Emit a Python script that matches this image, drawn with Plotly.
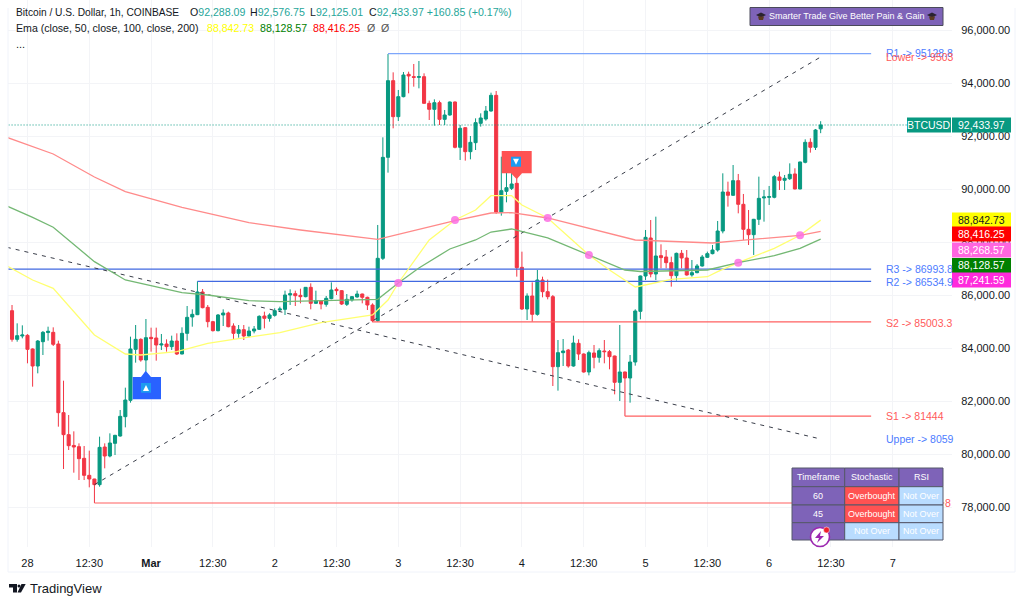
import pandas as pd
import plotly.graph_objects as go

opens = [85426,84344,84470,84495,83980,83338,84256,84600,84608,84168,81577,80747,80340,80294,79853,79212,79073,78860,80280,79941,
80419,80696,81426,82042,83967,84344,83564,84420,84395,84130,84168,84068,84281,83791,84571,85187,85275,86131,85552,85011,
84671,85263,85338,84847,84571,84709,84470,84659,84722,85225,85137,85250,85450,85477,86018,86068,86005,85955,86307,85703,
85792,85665,85880,86231,86181,85665,85830,85943,86055,85930,85640,85049,87402,91213,94107,92748,93503,94346,94258,94232,
94258,93251,93025,93276,92647,92811,93302,91591,92333,91427,91767,92497,92660,92962,93553,89138,89930,90043,90232,87062,
85489,85980,85288,86584,86143,85955,83313,83841,83942,83338,84193,83791,83112,83829,83665,83904,83879,83715,82722,83112,
82885,83489,85401,86735,88169,86810,87503,87452,87238,86748,87590,87415,86773,86861,87113,87440,87578,87716,88433,89905,
89780,90333,89440,88496,88295,88874,89679,89704,89704,90472,90346,90408,90585,90019,91025,91780,91591,92288.09]
highs = [85640,84948,84873,84540,84005,84319,84659,84822,84797,84294,82784,81489,80872,80419,80319,80143,79080,80671,80419,80797,
80740,81677,82520,84445,84885,84382,85112,84785,84785,84546,84344,84483,84571,84797,85602,85477,86535,86244,85640,85040,
85300,85477,85388,84948,84885,84885,84822,84847,85250,85388,85326,85515,85577,86181,86231,86181,86256,86320,86458,86181,
85815,85980,86495,86307,86206,86055,85980,86181,86068,85955,85703,88660,91968,95113,94421,93755,94434,94446,94736,94849,
94383,93352,93402,93352,93000,93320,93320,92433,92345,92018,92685,92874,93151,93654,93717,91238,90672,90987,90421,87653,
86080,86496,86961,86709,86600,86018,84319,84357,83980,84483,84345,83815,83917,84131,84005,84319,83942,83728,84886,83125,
83753,85477,86750,88471,88848,88974,87930,87716,87465,87616,87716,87716,87339,87188,87528,87654,87905,88811,90610,90295,
90924,90585,89830,89226,88890,90484,89981,90132,90547,90673,90547,90987,90799,91050,91893,91931,92283,92576.75]
lows = [84256,84256,84382,83439,82558,83061,83753,84294,84093,81048,79451,80168,79312,79035,79035,78759,78168,78784,79476,79891,
79979,80671,81023,81954,83464,83501,83124,83879,83539,83942,83879,83942,83753,83778,84294,84822,85260,85514,84797,84640,
84646,84847,84797,84319,84407,84319,84420,84571,84697,84759,85011,85200,85388,85263,85641,85602,85703,85930,85477,85690,
85477,85577,85855,86018,85640,85603,85766,85917,85703,85452,84990,85011,87339,90635,92308,92585,93478,93629,93880,93817,
93238,92622,92408,92433,92433,92786,91553,91113,91088,91138,91490,92371,92597,92937,89075,89012,89515,89980,86710,85452,
85074,85011,85238,85930,85854,82583,82407,83338,83275,83313,83565,83087,82986,83250,83464,83439,83213,82269,82017,81444,
81954,83351,85099,86584,86685,86584,87025,87025,86333,86559,87025,86748,86710,86836,87088,87415,87553,87653,88345,89352,
89755,89100,88094,87905,87528,88660,88786,89415,89666,89981,89981,90358,90006,90006,90987,91390,91490,92125.01]
closes = [84344,84483,84508,83967,83338,84281,84608,84650,84156,81577,80747,80331,80280,79841,79212,79073,78860,80268,79941,80432,
80721,81438,82055,83980,84344,83564,84407,84370,84130,84168,84068,84281,83791,84571,85175,85288,86131,85539,85011,84671,
85263,85338,84822,84571,84709,84470,84659,84735,85213,85137,85263,85426,85490,86018,86068,85992,85955,86307,85703,85804,
85678,85892,86206,86181,85678,85854,85955,86055,85930,85640,85049,87402,91213,94107,92748,93503,94321,94283,94232,94258,
93251,93025,93276,92647,92811,93302,91591,92308,91427,91779,92522,92698,92962,93553,89138,89955,90068,90207,87049,85489,
85980,85288,86584,86143,85955,83313,83841,83904,83338,84206,83791,83112,83841,83665,83917,83879,83690,82722,83112,82885,
83489,85414,86735,88194,86810,87490,87427,87238,86748,87590,87415,86773,86861,87113,87452,87578,87716,88433,89905,89780,
90333,89440,88496,88295,88874,89666,89717,89730,90484,90346,90421,90572,90019,91038,91780,91591,92245,92433.97]

ema50_idx = [-1,4,8,16,22,25,32,36,38,43,52,60,70,73,75,81,86,90,93,97,99,104,112,116,121,122,128,135,137,141,148,153,157]
ema50_val = [87112,86584,86271,84508,83791,83753,83878,84104,84195,84346,84595,84972,85263,85829,86471,88094,88848,89226,89765,89765,89414,88924,87527,86961,86320,86357,86610,86708,86897,87237,87780,88271,88842.73]
ema100_idx = [-1,4,8,16,22,33,38,46,52,62,71,75,79,85,90,93,97,104,112,119,122,135,141,148,153,157]
ema100_val = [89377,88950,88573,87275,86584,86105,86018,85803,85765,85803,85855,86471,87037,87754,88094,88395,88509,88169,87527,86961,86905,86961,87237,87501,87780,88128.57]
ema200_idx = [-1,8,16,22,33,38,46,56,71,86,93,97,104,121,128,136,141,153,157]
ema200_val = [91969,91339,90471,89916,89328,89101,88746,88471,88120,88822,89112,89124,88924,88094,88029,87980,88067,88271,88416.25]

cross_idx = [75,86,104,112,141,153]
cross_val = [86471,88848,88924,87527,87237,88271]

level_names = ["R1","R2","R3","S2","S1","S3"]
level_vals = [95128.8,86534.9,86993.8,85003.3,81444,78168]
level_from = [73,36,-1,70,119,16]
level_to = [166.8,166.8,166.8,166.8,166.8,181]
level_cols = ["#7ea6fb","#4169e1","#4169e1","#ff6060","#ff6060","#ff6060"]

trend_idx = [[16,157],[-1,157]]
trend_val = [[78860,95000],[87818,80583]]

price_ticks = [78000,80000,82000,84000,86000,88000,90000,92000,94000,96000]
time_ticks = ["2025-02-28 00:00","2025-02-28 12:00","2025-03-01 00:00","2025-03-01 12:00","2025-03-02 00:00","2025-03-02 12:00",
 "2025-03-03 00:00","2025-03-03 12:00","2025-03-04 00:00","2025-03-04 12:00","2025-03-05 00:00","2025-03-05 12:00",
 "2025-03-06 00:00","2025-03-06 12:00","2025-03-07 00:00"]
time_labels = ["28","12:30","<b>Mar</b>","12:30","2","12:30","3","12:30","4","12:30","5","12:30","6","12:30","7"]

UP, DOWN = "#089981", "#f23645"
PURPLE = "#7e63b8"
FONT = "Liberation Sans"
start = pd.Timestamp("2025-02-27 21:00")
def when(i):
    return start + pd.Timedelta(hours=float(i))
dates = [when(i) for i in range(len(closes))]

FW, FH = 1024, 604
PANE_L, PANE_R, PANE_T, PANE_B = 8, 952, 0, 547
PW, PH = PANE_R-PANE_L, PANE_B-PANE_T
def xp(px): return (px-PANE_L)/PW
def yp(py): return 1-(py-PANE_T)/PH

fig = go.Figure()
for name, val, a, b, col in zip(level_names, level_vals, level_from, level_to, level_cols):
    fig.add_trace(go.Scatter(x=[when(a),when(b)], y=[val,val], mode="lines", name=name, line=dict(color=col,width=1.2), showlegend=False))
for idx, val in zip(trend_idx, trend_val):
    fig.add_trace(go.Scatter(x=[when(i) for i in idx], y=val, mode="lines", line=dict(color="#3a3e4a",width=1,dash="4px 5px"), showlegend=False))
fig.add_trace(go.Scatter(x=[when(i) for i in ema50_idx], y=ema50_val, mode="lines", line=dict(color="#ffff70",width=1.3), showlegend=False))
fig.add_trace(go.Scatter(x=[when(i) for i in ema100_idx], y=ema100_val, mode="lines", line=dict(color="#74b874",width=1.3), showlegend=False))
fig.add_trace(go.Scatter(x=[when(i) for i in ema200_idx], y=ema200_val, mode="lines", line=dict(color="#ff8a8a",width=1.3), showlegend=False))
fig.add_trace(go.Candlestick(x=dates, open=opens, high=highs, low=lows, close=closes, whiskerwidth=0,
    increasing=dict(line=dict(color=UP,width=1), fillcolor=UP),
    decreasing=dict(line=dict(color=DOWN,width=1), fillcolor=DOWN), showlegend=False))
fig.add_trace(go.Scatter(x=[when(i) for i in cross_idx], y=cross_val, mode="markers",
    marker=dict(color="#fb6fe3",size=8,opacity=0.85), showlegend=False))
fig.add_trace(go.Scatter(x=[dates[0]-pd.Timedelta(hours=3), when(174.5)], y=[closes[-1],closes[-1]], mode="lines",
    line=dict(color=UP,width=1,dash="1px 2px"), showlegend=False))

shapes, ann = [], []
def rect(x0,y0,x1,y1,fill,line=None,lw=1):
    shapes.append(dict(type="rect",xref="paper",yref="paper",x0=xp(x0),x1=xp(x1),y0=yp(y0),y1=yp(y1),
        fillcolor=fill,line=dict(color=line or fill,width=lw if line else 0),layer="above"))
def poly(pts,fill,line=None,lw=1):
    d="M"+" L".join(f"{xp(a):.5f},{yp(b):.5f}" for a,b in pts)+" Z"
    shapes.append(dict(type="path",xref="paper",yref="paper",path=d,fillcolor=fill,line=dict(color=line or fill,width=lw if line else 0),layer="above"))
def txt(px,py,s,color="#131722",size=11,anchor="left"):
    ann.append(dict(xref="paper",yref="paper",x=xp(px),y=yp(py),text=s,showarrow=False,xanchor=anchor,yanchor="middle",
        font=dict(family=FONT,size=size,color=color),align=anchor,borderpad=0,borderwidth=0))

# frame
FRAME = "#f0f3fa"
for a,b,c,d in [(1015,8,1015,572),(8,572,1015,572),(8,8,8,572)]:
    shapes.append(dict(type="line",xref="paper",yref="paper",x0=xp(a),x1=xp(c),y0=yp(b),y1=yp(d),line=dict(color=FRAME,width=1)))

# legend text
G1 = "#26a69a"
txt(16,12.5,"Bitcoin / U.S. Dollar, 1h, COINBASE",size=10.2)
for x,k,v in [(190,"O","92,288.09"),(250,"H","92,576.75"),(310,"L","92,125.01"),(369,"C","92,433.97 +160.85 (+0.17%)")]:
    txt(x,12.5,f'{k}<span style="color:{G1}">{v}</span>',size=10.6)
txt(16,28,"Ema (close, 50, close, 100, close, 200)",size=10.6)
txt(206.5,28,"88,842.73",color="#ffff00",size=10.6)
txt(260,28,"88,128.57",color="#008000",size=10.6)
txt(313,28,"88,416.25",color="#ff0000",size=10.6)
txt(367,28,"Ø",color="#555",size=10.6)
txt(381,28,"Ø",color="#555",size=10.6)
txt(16,44,"...")

# banner
rect(750,7.5,943,25.5,PURPLE,"#4a4a5a",1)
txt(846.5,16.5,"Smarter Trade Give Better Pain &amp; Gain",color="white",size=9,anchor="center")
for cx in (761,932):
    poly([(cx-5,15),(cx,12.5),(cx+5,15),(cx,17.5)],"#2a2330")
    poly([(cx-3,16.5),(cx+3,16.5),(cx+2,20),(cx-2,20)],"#5a3a20")

# level labels
LS = 10.5
txt(886,53,"R1 -> 95128.8",color="#4d7cff",size=LS)
txt(886,57,"Lower -> 9503",color="#ff5a5a",size=LS)
txt(886,269,"R3 -> 86993.8",color="#4d7cff",size=LS)
txt(886,281.5,"R2 -> 86534.9",color="#4d7cff",size=LS)
txt(886,322.5,"S2 -> 85003.3",color="#ff5a5a",size=LS)
txt(886,416,"S1 -> 81444",color="#ff5a5a",size=LS)
txt(886,439,"Upper -> 8059",color="#4d7cff",size=LS)
txt(945,503,"8",color="#ff5a5a",size=LS)

def tag(x0,x1,yc,fill,s,color="white"):
    rect(x0,yc-7.5,x1,yc+7.5,fill)
    txt((x0+x1)/2,yc,s,color=color,anchor="center",size=10.5)
tag(907,951,125,UP,"BTCUSD")
tag(952,1011,125,UP,"92,433.97")
tag(952,1011,220,"#ffff00","88,842.73","#131722")
tag(952,1011,234,"#ff0000","88,416.25")
tag(952,1011,250,"#ff66e0","88,268.57")
tag(952,1011,265.5,"#008000","88,128.57")
tag(952,1011,280,"#ff2bdc","87,241.59")

# signals
poly([(132.7,377),(141,377),(145.7,370.7),(151,377),(161,377),(161,399.3),(132.7,399.3)],"#2962ff")
rect(141,383,151,392.7,"#1e9bf0")
poly([(143,391),(149,391),(146,385)],"white")
poly([(501.7,151),(531.7,151),(531.7,173.3),(522,173.3),(516.7,179.3),(511,173.3),(501.7,173.3)],"#ff5252")
rect(511,156.7,521,166.7,"#1e9bf0")
poly([(513,158.7),(519,158.7),(516,164.7)],"white")

# table
cols = [792,844.7,899,943]
rows = [468,486.7,505,522.7,540]
table_text = [["Timeframe","Stochastic","RSI"],["60","Overbought","Not Over"],["45","Overbought","Not Over"],["","Not Over","Not Over"]]
table_fill = [[PURPLE,PURPLE,PURPLE],[PURPLE,"#ff5252","#b9dcff"],[PURPLE,"#ff5252","#b9dcff"],[PURPLE,"#b9dcff","#b9dcff"]]
for r in range(4):
    for c in range(3):
        rect(cols[c],rows[r],cols[c+1],rows[r+1],table_fill[r][c],"#55586a",1)
        txt((cols[c]+cols[c+1])/2,(rows[r]+rows[r+1])/2,table_text[r][c],color="white",size=9,anchor="center")
shapes.append(dict(type="circle",xref="paper",yref="paper",x0=xp(810.5),x1=xp(829.5),y0=yp(546.5),y1=yp(527.5),
    fillcolor="white",line=dict(color="#9c27b0",width=1.6),layer="above"))
poly([(821,531),(815,538),(819,538),(817,543),(824,536),(820,536)],"#9c27b0")
shapes.append(dict(type="circle",xref="paper",yref="paper",x0=xp(823.5),x1=xp(829.5),y0=yp(533),y1=yp(527),
    fillcolor="#f0202c",line=dict(color="white",width=0.5),layer="above"))

# logo
poly([(9,584),(17,584),(17,592.5),(13,592.5),(13,587.5),(9,587.5)],"#131722")
shapes.append(dict(type="circle",xref="paper",yref="paper",x0=xp(17.5),x1=xp(20.5),y0=yp(587.6),y1=yp(584.4),fillcolor="#131722",line=dict(width=0),layer="above"))
poly([(21.5,584),(25.7,584),(21,592.5),(17.5,592.5)],"#131722")
txt(29.5,588.5,"TradingView",size=13)

fig.update_layout(width=FW,height=FH,margin=dict(l=PANE_L,r=FW-PANE_R,t=PANE_T,b=FH-PANE_B,autoexpand=False),autosize=False,
    paper_bgcolor="white",plot_bgcolor="white",showlegend=False,boxgap=0.15,hovermode=False,
    font=dict(family=FONT,size=11,color="#131722"),shapes=shapes,annotations=ann,
    xaxis=dict(type="date",range=[when(-0.78),when(182.5)],rangeslider=dict(visible=False),tickmode="array",
        tickvals=time_ticks,ticktext=time_labels,tickangle=0,showgrid=True,gridcolor="#f3f4f7",gridwidth=1,
        zeroline=False,showline=False,ticks="outside",ticklen=6,tickcolor="rgba(0,0,0,0)",tickfont=dict(size=11,color="#131722")),
    yaxis=dict(side="right",range=[76507,97151],tickmode="array",tickvals=price_ticks,tickformat=",.2f",showgrid=True,
        gridcolor="#f3f4f7",gridwidth=1,zeroline=False,showline=False,ticks="outside",ticklen=6,tickcolor="rgba(0,0,0,0)",
        tickfont=dict(size=11,color="#131722")))
fig.write_html("out.html", config=dict(displayModeBar=False),
    post_script="document.body.style.margin='0';document.documentElement.style.overflow='hidden';")
